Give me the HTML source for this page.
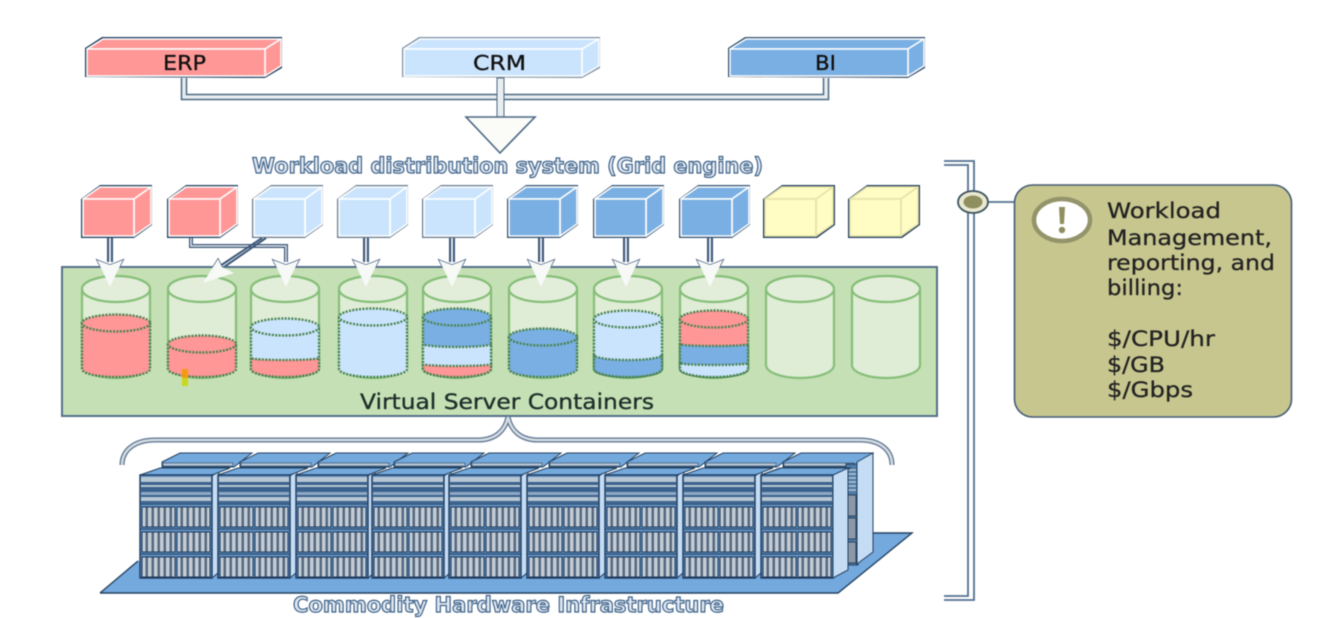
<!DOCTYPE html>
<html>
<head>
<meta charset="utf-8">
<style>
html,body{margin:0;padding:0;background:#fff;width:1318px;height:618px;overflow:hidden}
svg{display:block;filter:blur(.55px)}
text{font-family:"DejaVu Sans","Liberation Sans",sans-serif}
.o{fill:#dfe8f2;stroke:#3f6288;stroke-width:1.2px;font-size:21px;font-weight:bold}
.t{fill:#222;stroke:#222;stroke-width:.3px;font-size:21.5px}
.b{fill:#111;stroke:#111;stroke-width:.35px;font-size:20.5px}
.liq{stroke:#4a8350;stroke-width:2.4;stroke-dasharray:2 1.4}
</style>
</head>
<body>
<svg width="1318" height="618" viewBox="0 0 1318 618" xmlns="http://www.w3.org/2000/svg">
<defs>
<pattern id="st" width="6" height="6" patternUnits="userSpaceOnUse">
<rect width="6" height="6" fill="#c3ccd6"/><rect x="3.500" width="2.500" height="6" fill="#56697e"/>
</pattern>
<g id="panel"><rect width="33" height="20" fill="url(#st)" stroke="#1f3a5c"/></g>
<g id="rack">
<polygon points="72,1 79,-4 79,97 72,103" fill="#c5dcf5" stroke="#24415f"/>
<polygon points="0,0 20,-7 90,-7 72,0" fill="#74a9de" stroke="#24415f"/>
<rect width="72" height="103" fill="#5f90c2" stroke="#1f3a5c" stroke-width="1.400"/>
<rect x="1" y="2" width="70" height="5" fill="#b9c6d4"/>
<rect x="1" y="7" width="70" height="3" fill="#3b628c"/>
<rect x="1" y="10" width="70" height="2" fill="#b9c6d4"/>
<rect x="1" y="12" width="70" height="5" fill="#3b628c"/>
<rect x="1" y="17" width="70" height="3" fill="#8fa9c4"/>
<rect x="1" y="20" width="70" height="2" fill="#3b628c"/>
<rect x="1" y="22" width="70" height="4" fill="#b9c6d4"/>
<rect x="1" y="26" width="70" height="2" fill="#3b628c"/>
<use href="#panel" x="2" y="32"/><use href="#panel" x="37" y="32"/>
<use href="#panel" x="2" y="57"/><use href="#panel" x="37" y="57"/>
<use href="#panel" x="2" y="82"/><use href="#panel" x="37" y="82"/>
<path d="M0,29H72M0,54H72M0,79H72" stroke="#24415f" fill="none"/>
</g>
<g id="back">
<polygon points="22,-13 40,-22 112,-22 94,-8 22,-8" fill="#74a9de" stroke="#24415f"/>
<rect x="23" y="-12" width="70" height="3" fill="#b9c6d4" stroke="#24415f" stroke-width=".6"/>
</g>
<g id="cyl">
<path d="M-34,289 V365 A34,13 0 0 0 34,365 V289 A34,13 0 0 0 -34,289Z" fill="#dfecd6" stroke="#86bf78" stroke-width="2.200"/>
</g>
<ellipse id="cyltop" cx="0" cy="289" rx="34" ry="13" fill="#e2eeda" stroke="#86bf78" stroke-width="2.200"/>
<g id="shaft">
<path d="M-2,238V262M2,238V262" stroke="#3c5778" stroke-width="2" fill="none"/>
<path d="M0,238V262" stroke="#dfe5ec" stroke-width="2"/>
</g>
<polygon id="wing" points="-13,260 -8,262 0,265 8,262 13,260 9,268 0,287 -9,268" fill="#fff" stroke="#3c5778" stroke-width="1.400"/>
<polygon id="head" points="-13,260 -8,262 0,265 8,262 13,260 9,268 0,287 -9,268" fill="#f7f9f7"/>
<g id="arrow"><use href="#shaft"/><use href="#wing"/></g>
</defs>

<!-- top connector -->
<path d="M184,78V97H498M826,78V97H503" fill="none" stroke="#4c6884" stroke-width="6.500"/>
<path d="M184,78V97H498M826,78V97H503" fill="none" stroke="#e8edf0" stroke-width="3.500"/>
<rect x="497" y="78" width="7" height="40" fill="#e8edf0" stroke="#4c6884" stroke-width="1"/>
<polygon points="466,117 535,117 500,153" fill="#fbfbf8" stroke="#4c6884" stroke-width="1.600"/>

<!-- top boxes -->
<g stroke-linejoin="round" stroke-width="1.500">
<polygon points="85,77 85,48 102,37 282,37 282,68 265,78" fill="#1f3b5c"/>
<polygon points="87,49 103,39 281,39 265,49" fill="#ff9797" stroke="#fff"/>
<polygon points="265,49 281,39 281,66 265,76" fill="#ff9797" stroke="#fff"/>
<rect x="87" y="49" width="178" height="27" fill="#ff9797" stroke="#fff"/>
<polygon points="402,77 402,48 419,37 600,37 600,68 582,78" fill="#7b8fa6"/>
<polygon points="404,49 420,39 599,39 582,49" fill="#cbe4fd" stroke="#fff"/>
<polygon points="582,49 599,39 599,66 582,76" fill="#cbe4fd" stroke="#fff"/>
<rect x="404" y="49" width="178" height="27" fill="#cbe4fd" stroke="#fff"/>
<polygon points="728,77 728,48 745,37 925,37 925,68 908,78" fill="#33506f"/>
<polygon points="730,49 746,39 924,39 908,49" fill="#7aafe3" stroke="#fff"/>
<polygon points="908,49 924,39 924,66 908,76" fill="#7aafe3" stroke="#fff"/>
<rect x="730" y="49" width="178" height="27" fill="#7aafe3" stroke="#fff"/>
</g>
<text class="b" x="163" y="70" textLength="43" lengthAdjust="spacingAndGlyphs">ERP</text>
<text class="b" x="473" y="70" textLength="53" lengthAdjust="spacingAndGlyphs">CRM</text>
<text class="b" x="815" y="70" textLength="21" lengthAdjust="spacingAndGlyphs">BI</text>

<text class="o" x="252" y="173" textLength="511" lengthAdjust="spacingAndGlyphs">Workload distribution system (Grid engine)</text>

<!-- cubes -->
<g stroke-linejoin="round" stroke-width="1.600">
<g fill="#ff9797">
<g transform="translate(82,199)"><polygon points="-1,39 -1,0 18,-14 70,-14 70,26 52,39" fill="#1f3b5c"/><polygon points="1,0 18,-12 69,-12 52,0" stroke="#fff"/><polygon points="52,0 69,-12 69,25 52,37" stroke="#fff"/><rect x="1" y="0" width="51" height="37" stroke="#fff"/></g>
<g transform="translate(168,199)"><polygon points="-1,39 -1,0 18,-14 70,-14 70,26 52,39" fill="#1f3b5c"/><polygon points="1,0 18,-12 69,-12 52,0" stroke="#fff"/><polygon points="52,0 69,-12 69,25 52,37" stroke="#fff"/><rect x="1" y="0" width="51" height="37" stroke="#fff"/></g>
</g>
<g fill="#cbe4fd">
<g transform="translate(253,199)"><polygon points="-1,39 -1,0 18,-14 70,-14 70,26 52,39" fill="#64798f"/><polygon points="1,0 18,-12 69,-12 52,0" stroke="#fff"/><polygon points="52,0 69,-12 69,25 52,37" stroke="#fff"/><rect x="1" y="0" width="51" height="37" stroke="#fff"/></g>
<g transform="translate(338,199)"><polygon points="-1,39 -1,0 18,-14 70,-14 70,26 52,39" fill="#64798f"/><polygon points="1,0 18,-12 69,-12 52,0" stroke="#fff"/><polygon points="52,0 69,-12 69,25 52,37" stroke="#fff"/><rect x="1" y="0" width="51" height="37" stroke="#fff"/></g>
<g transform="translate(423,199)"><polygon points="-1,39 -1,0 18,-14 70,-14 70,26 52,39" fill="#64798f"/><polygon points="1,0 18,-12 69,-12 52,0" stroke="#fff"/><polygon points="52,0 69,-12 69,25 52,37" stroke="#fff"/><rect x="1" y="0" width="51" height="37" stroke="#fff"/></g>
</g>
<g fill="#7aafe3">
<g transform="translate(508,199)"><polygon points="-1,39 -1,0 18,-14 70,-14 70,26 52,39" fill="#33506f"/><polygon points="1,0 18,-12 69,-12 52,0" stroke="#fff"/><polygon points="52,0 69,-12 69,25 52,37" stroke="#fff"/><rect x="1" y="0" width="51" height="37" stroke="#fff"/></g>
<g transform="translate(594,199)"><polygon points="-1,39 -1,0 18,-14 70,-14 70,26 52,39" fill="#33506f"/><polygon points="1,0 18,-12 69,-12 52,0" stroke="#fff"/><polygon points="52,0 69,-12 69,25 52,37" stroke="#fff"/><rect x="1" y="0" width="51" height="37" stroke="#fff"/></g>
<g transform="translate(680,199)"><polygon points="-1,39 -1,0 18,-14 70,-14 70,26 52,39" fill="#33506f"/><polygon points="1,0 18,-12 69,-12 52,0" stroke="#fff"/><polygon points="52,0 69,-12 69,25 52,37" stroke="#fff"/><rect x="1" y="0" width="51" height="37" stroke="#fff"/></g>
</g>
<g fill="#fffcc4">
<g transform="translate(764,199)"><polygon points="-1,39 -1,0 18,-14 71,-14 71,26 53,39" fill="#1f3b5c"/><polygon points="1,0 18,-12 69,-12 52,0" stroke="#e4e2a8"/><polygon points="52,0 69,-12 69,25 52,37" stroke="#e4e2a8"/><rect x="1" y="0" width="51" height="37" stroke="#e4e2a8"/></g>
<g transform="translate(849,199)"><polygon points="-1,39 -1,0 18,-14 71,-14 71,26 53,39" fill="#1f3b5c"/><polygon points="1,0 18,-12 69,-12 52,0" stroke="#e4e2a8"/><polygon points="52,0 69,-12 69,25 52,37" stroke="#e4e2a8"/><rect x="1" y="0" width="51" height="37" stroke="#e4e2a8"/></g>
</g>
</g>

<!-- arrows -->
<use href="#arrow" x="110"/><use href="#arrow" x="366"/><use href="#arrow" x="452"/>
<use href="#arrow" x="541"/><use href="#arrow" x="626"/><use href="#arrow" x="710"/>
<use href="#wing" x="286"/>
<path d="M191,238V246H286V262" fill="none" stroke="#3c5778" stroke-width="4"/>
<path d="M191,238V246H286V262" fill="none" stroke="#dfe5ec" stroke-width="1.500"/>
<path d="M266,238L224,267M262,238L220,266" stroke="#3c5778" stroke-width="2" fill="none"/>
<polygon points="218,259 222,267 234,273 203,283" fill="#fff" stroke="#3c5778" stroke-width="1.400"/>

<!-- panel -->
<rect x="62" y="267" width="875" height="149" fill="#c6e0b6" stroke="#54708a" stroke-width="2"/>

<!-- cylinders -->
<use href="#cyl" x="116"/><use href="#cyl" x="202"/><use href="#cyl" x="285"/><use href="#cyl" x="373"/><use href="#cyl" x="457"/>
<use href="#cyl" x="543"/><use href="#cyl" x="628"/><use href="#cyl" x="714"/><use href="#cyl" x="800"/><use href="#cyl" x="886"/>
<use href="#cyltop" x="116"/><use href="#cyltop" x="202"/><use href="#cyltop" x="285"/><use href="#cyltop" x="373"/><use href="#cyltop" x="457"/>
<use href="#cyltop" x="543"/><use href="#cyltop" x="628"/><use href="#cyltop" x="714"/><use href="#cyltop" x="800"/><use href="#cyltop" x="886"/>

<!-- liquids -->
<g class="liq">
<g transform="translate(116,0)">
<path d="M-34,323V369A34,8 0 0 0 34,369V323Z" fill="#ff9797"/><ellipse cy="323" rx="34" ry="8.500" fill="#ff9797"/>
</g>
<g transform="translate(202,0)">
<path d="M-34,344V369A34,8 0 0 0 34,369V344Z" fill="#ff9797"/><ellipse cy="344" rx="34" ry="8.500" fill="#ff9797"/>
</g>
<g transform="translate(285,0)">
<path d="M-34,327V369A34,8 0 0 0 34,369V327Z" fill="#cbe4fd"/><ellipse cy="327" rx="34" ry="8.500" fill="#cbe4fd"/>
<path d="M-34,358V369A34,8 0 0 0 34,369V358A34,2 0 0 1 -34,358Z" fill="#ff9797"/>
</g>
<g transform="translate(373,0)">
<path d="M-34,317V369A34,8 0 0 0 34,369V317Z" fill="#cbe4fd"/><ellipse cy="317" rx="34" ry="8.500" fill="#cbe4fd"/>
</g>
<g transform="translate(457,0)">
<path d="M-34,317V369A34,8 0 0 0 34,369V317Z" fill="#7aafe3"/><ellipse cy="317" rx="34" ry="8.500" fill="#7aafe3"/>
<path d="M-34,344V369A34,8 0 0 0 34,369V344A34,3 0 0 1 -34,344Z" fill="#cbe4fd"/>
<path d="M-34,364V369A34,8 0 0 0 34,369V364A34,2 0 0 1 -34,364Z" fill="#ff9797"/>
</g>
<g transform="translate(543,0)">
<path d="M-34,337V369A34,8 0 0 0 34,369V337Z" fill="#7aafe3"/><ellipse cy="337" rx="34" ry="8.500" fill="#7aafe3"/>
</g>
<g transform="translate(628,0)">
<path d="M-34,319V369A34,8 0 0 0 34,369V319Z" fill="#cbe4fd"/><ellipse cy="319" rx="34" ry="8.500" fill="#cbe4fd"/>
<path d="M-34,355V369A34,8 0 0 0 34,369V355A34,5 0 0 1 -34,355Z" fill="#7aafe3"/>
</g>
<g transform="translate(714,0)">
<path d="M-34,319V369A34,8 0 0 0 34,369V319Z" fill="#ff9797"/><ellipse cy="319" rx="34" ry="8.500" fill="#ff9797"/>
<path d="M-34,344V369A34,8 0 0 0 34,369V344A34,2 0 0 1 -34,344Z" fill="#7aafe3"/>
<path d="M-34,363V369A34,8 0 0 0 34,369V363A34,2 0 0 1 -34,363Z" fill="#cbe4fd"/>
</g>
</g>

<!-- white arrow heads over panel -->
<use href="#head" x="110"/><use href="#head" x="286"/><use href="#head" x="366"/><use href="#head" x="452"/>
<use href="#head" x="541"/><use href="#head" x="626"/><use href="#head" x="710"/>
<polygon points="218,259 222,267 234,273 203,283" fill="#f7f9f7"/>

<rect x="182" y="369" width="6" height="9" fill="#f59a10"/>
<rect x="182" y="378" width="6" height="8" fill="#c9d81c"/>

<text x="360" y="409" font-size="21" textLength="294" lengthAdjust="spacingAndGlyphs" fill="#1f2f2a" stroke="#1f2f2a" stroke-width=".35">Virtual Server Containers</text>

<!-- brace -->
<path d="M122,465C122,450 135,440 155,440L478,440C495,440 505,431 508,417C511,431 521,440 538,440L860,440C880,440 892,450 892,465" fill="none" stroke="#5b7390" stroke-width="5"/>
<path d="M122,465C122,450 135,440 155,440L478,440C495,440 505,431 508,417C511,431 521,440 538,440L860,440C880,440 892,450 892,465" fill="none" stroke="#d5dce3" stroke-width="2.500"/>

<!-- platform -->
<polygon points="100,593 138,561 873,533 912,533 838,593" fill="#74a9de"/>
<path d="M100,593H838L912,533H873M100,593L138,561" fill="none" stroke="#24415f" stroke-width="1.400"/>

<!-- servers -->
<use href="#back" x="140" y="475"/><use href="#back" x="218" y="475"/><use href="#back" x="296" y="475"/>
<use href="#back" x="372" y="475"/><use href="#back" x="449" y="475"/><use href="#back" x="527" y="475"/>
<use href="#back" x="605" y="475"/><use href="#back" x="683" y="475"/><use href="#back" x="761" y="475"/>
<rect x="846" y="464" width="12" height="101" fill="#4e7ba8" stroke="#24415f"/>
<path d="M848,470H856M848,474H856M848,478H856M848,482H856M848,486H856M848,490H856" stroke="#b9c6d4" stroke-width="1.500"/>
<rect x="848" y="495" width="8" height="21" fill="#8b98a6" stroke="#24415f"/>
<rect x="848" y="518" width="8" height="21" fill="#8b98a6" stroke="#24415f"/>
<rect x="848" y="542" width="8" height="21" fill="#8b98a6" stroke="#24415f"/>
<polygon points="857,462 873,453 873,552 857,564" fill="#c5dcf5" stroke="#24415f"/>

<use href="#rack" x="140" y="475"/><use href="#rack" x="218" y="475"/><use href="#rack" x="296" y="475"/>
<use href="#rack" x="372" y="475"/><use href="#rack" x="449" y="475"/><use href="#rack" x="527" y="475"/>
<use href="#rack" x="605" y="475"/><use href="#rack" x="683" y="475"/>
<polygon points="761,475 780,468 848,468 833,475" fill="#74a9de" stroke="#24415f"/>
<use href="#rack" x="761" y="475"/>
<polygon points="833,475 848,468 848,570 833,578" fill="#c5dcf5" stroke="#24415f"/>

<text class="o" x="293" y="612" textLength="431" lengthAdjust="spacingAndGlyphs">Commodity Hardware Infrastructure</text>

<!-- bracket -->
<path d="M944,161H974V600H944" fill="none" stroke="#52708f" stroke-width="1.800"/>
<path d="M944,165H968V596H944" fill="none" stroke="#52708f" stroke-width="1.800"/>
<path d="M985,202H1016" stroke="#52708f" stroke-width="1.800"/>
<ellipse cx="973" cy="202" rx="15" ry="11" fill="#e9e9d0" stroke="#3c5260" stroke-width="1.800"/>
<ellipse cx="973" cy="202" rx="9.500" ry="6.500" fill="#8f8f60"/>

<!-- note -->
<rect x="1014.500" y="185" width="277" height="232" rx="18" ry="18" fill="#c7c68f" stroke="#445c74" stroke-width="1.600"/>
<ellipse cx="1062" cy="220" rx="28" ry="21" fill="#fff" stroke="#94946a" stroke-width="4.500"/>
<path d="M1059,207H1065L1064,224H1060Z" fill="#8f8f60"/>
<circle cx="1062" cy="230" r="3.200" fill="#8f8f60"/>
<text class="t" x="1107" y="218" textLength="114" lengthAdjust="spacingAndGlyphs">Workload</text>
<text class="t" x="1107" y="245" textLength="165" lengthAdjust="spacingAndGlyphs">Management,</text>
<text class="t" x="1107" y="270" textLength="168" lengthAdjust="spacingAndGlyphs">reporting, and</text>
<text class="t" x="1107" y="295" textLength="76" lengthAdjust="spacingAndGlyphs">billing:</text>
<text class="t" x="1107" y="346" textLength="108" lengthAdjust="spacingAndGlyphs">$/CPU/hr</text>
<text class="t" x="1107" y="372" textLength="58" lengthAdjust="spacingAndGlyphs">$/GB</text>
<text class="t" x="1107" y="397" textLength="86" lengthAdjust="spacingAndGlyphs">$/Gbps</text>
</svg>
</body>
</html>
